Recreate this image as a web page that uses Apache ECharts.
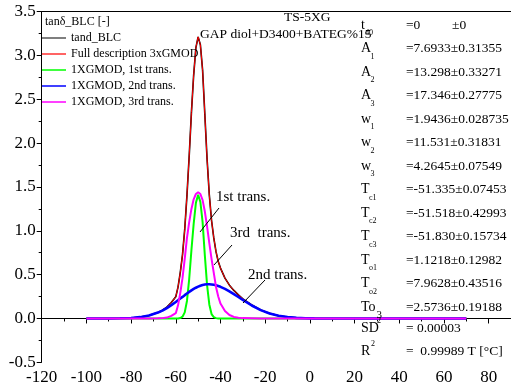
<!DOCTYPE html>
<html>
<head>
<meta charset="utf-8">
<script src="https://cdn.jsdelivr.net/npm/echarts@6/dist/echarts.min.js"></script>
<style>
  html, body { margin: 0; padding: 0; background: #fff; }
  #chart { width: 511px; height: 391px; }
</style>
</head>
<body>
<div id="chart"></div>
<script>
// temperature grid, °C
const temps = [-100,-90,-85,-80,-76,-72,-68,-66,-64,-62,
  -60,-59,-58,-57,-56,-55,-54,-53,-52,-51,
  -50,-49,-48,-47,-46,-45,-44,-43,-42,-41,
  -40,-38,-36,-34,-32,-30,-26,-22,-18,-14,
  -10,-6,-2,2,10,20,30,40,50,60,70];

// measured tan delta (black) and full 3xGMOD fit (red)
const measuredTand = [0,0,0.002,0.006,0.015,0.034,0.069,0.094,0.129,0.182,
  0.248,0.357,0.522,0.726,1.016,1.405,1.853,2.351,2.777,3.091,
  3.213,3.124,2.832,2.327,1.82,1.41,1.118,0.919,0.762,0.65,
  0.575,0.46,0.38,0.32,0.27,0.224,0.155,0.098,0.058,0.031,
  0.016,0.007,0.003,0.001,0,0,0,0,0,0,0];
const fullFit = [0,0,0.002,0.006,0.015,0.034,0.069,0.094,0.129,0.182,
  0.248,0.357,0.522,0.726,1.016,1.405,1.853,2.351,2.777,3.091,
  3.213,3.124,2.832,2.327,1.82,1.41,1.118,0.919,0.762,0.65,
  0.575,0.46,0.38,0.32,0.27,0.224,0.155,0.098,0.058,0.031,
  0.016,0.007,0.003,0.001,0,0,0,0,0,0,0];
// single transitions
const trans1 = [0,0,0,0,0,0,0,0,0,0,
  0,0,0.005,0.02,0.07,0.2,0.45,0.78,1.08,1.32,
  1.41,1.33,1.1,0.72,0.38,0.16,0.05,0.015,0.004,0,
  0,0,0,0,0,0,0,0,0,0,
  0,0,0,0,0,0,0,0,0,0,0];
const trans2 = [0,0,0.002,0.006,0.015,0.034,0.067,0.09,0.119,0.152,
  0.188,0.207,0.227,0.246,0.266,0.285,0.303,0.321,0.337,0.351,
  0.363,0.374,0.382,0.387,0.39,0.39,0.388,0.384,0.378,0.37,
  0.361,0.338,0.31,0.278,0.245,0.211,0.148,0.095,0.057,0.031,
  0.016,0.007,0.003,0.001,0,0,0,0,0,0,0];
const trans3 = [0,0,0,0,0,0,0.002,0.004,0.01,0.03,
  0.06,0.15,0.29,0.46,0.68,0.92,1.1,1.25,1.36,1.42,
  1.44,1.42,1.35,1.22,1.05,0.86,0.68,0.52,0.36,0.25,
  0.17,0.085,0.04,0.018,0.008,0.004,0.002,0,0,0,
  0,0,0,0,0,0,0,0,0,0,0];

const seriesNames = ['tand_BLC', 'Full description 3xGMOD', '1XGMOD, 1st trans.', '1XGMOD, 2nd trans.', '1XGMOD, 3rd trans.'];
const legendColors = ['#555555', '#ff3030', '#00ff00', '#0000ff', '#ff00ff'];

// fit parameters table
const paramNames = ['t','A','A','A','w','w','w','T','T','T','T','T','To'];
const paramSubs = ['d0','1','2','3','1','2','3','c1','c2','c3','o1','o2','3'];
const paramVals = ['=0','=7.6933\u00b10.31355','=13.298\u00b10.33271','=17.346\u00b10.27775',
  '=1.9436\u00b10.028735','=11.531\u00b10.31831','=4.2645\u00b10.07549',
  '=-51.335\u00b10.07453','=-51.518\u00b10.42993','=-51.830\u00b10.15734',
  '=1.1218\u00b10.12982','=7.9628\u00b10.43516','=2.5736\u00b10.19188'];

const FONT = 'Liberation Serif';
const chart = echarts.init(document.getElementById('chart'));

const pairs = arr => temps.map((t, i) => [t, arr[i]]);

function lineSeries(name, data, color, width, legendColor) {
  return {
    name: name,
    type: 'line',
    data: pairs(data),
    symbol: 'none',
    lineStyle: { color: color, width: width },
    itemStyle: { color: legendColor },
    animation: false
  };
}

// right side table as graphic texts
const graphics = [];
const subOffset = { t: 4, A: 9.5, w: 9.5, T: 8, To: 15.5 };
function txt(text, x, y, size) {
  graphics.push({ type: 'text', z: 100, style: { text: text, x: x, y: y, font: size + 'px "' + FONT + '"', fill: '#000', textVerticalAlign: 'middle' } });
}
paramNames.forEach((n, i) => {
  const y = 25 + i * 23.5;
  txt(n, 361, y, 14);
  txt(paramSubs[i], 361 + subOffset[n], y + 8, n === 'To' ? 11 : 8);
  txt(paramVals[i], 406, y, 13.5);
});
txt('\u00b10', 452, 25, 13.5);
txt('SD', 361, 328, 14);
txt('2', 377, 321, 8);
txt('= 0.00003', 406, 328, 13.5);
txt('R', 361, 351, 14);
txt('2', 371, 344, 8);
txt('=  0.99989 T [\u00b0C]', 406, 351, 13.5);

// headings
txt('tan\u03b4_BLC [-]', 45, 22, 12);
txt('TS-5XG', 284, 17, 13.5);
txt('GAP diol+D3400+BATEG%15', 200, 34, 13.5);

// curve annotations
txt('1st trans.', 216, 197, 15);
txt('3rd  trans.', 230, 233, 15);
txt('2nd trans.', 248, 275, 15);
graphics.push({ type: 'line', shape: { x1: 219, y1: 208, x2: 200, y2: 232 }, style: { stroke: '#000', lineWidth: 1 }, z: 100 });
graphics.push({ type: 'line', shape: { x1: 232, y1: 245, x2: 214, y2: 265 }, style: { stroke: '#000', lineWidth: 1 }, z: 100 });
graphics.push({ type: 'line', shape: { x1: 265, y1: 280, x2: 243, y2: 303 }, style: { stroke: '#000', lineWidth: 1 }, z: 100 });

const option = {
  backgroundColor: '#fff',
  animation: false,
  grid: { left: 41.7, right: -3.2, top: 11.7, bottom: 28.7, containLabel: false },
  legend: {
    data: seriesNames,
    orient: 'vertical',
    left: 42,
    top: 31,
    padding: 0,
    icon: 'rect',
    itemWidth: 24,
    itemHeight: 1.5,
    itemGap: 2,
    textStyle: { fontFamily: FONT, fontSize: 12, color: '#000', lineHeight: 14 },
    selectedMode: false
  },
  xAxis: [{
    type: 'value',
    min: -120,
    max: 90,
    interval: 20,
    axisLine: { lineStyle: { color: '#000', width: 1 } },
    axisTick: { inside: false, length: 5, lineStyle: { color: '#000' } },
    minorTick: { show: true, splitNumber: 2, length: 3, lineStyle: { color: '#000' } },
    splitLine: { show: false },
    axisLabel: { fontFamily: 'serif', fontSize: 17, color: '#000', margin: 7, showMaxLabel: false }
  }, {
    type: 'value',
    position: 'top',
    min: -120,
    max: 90,
    axisLine: { show: true, onZero: false, lineStyle: { color: '#000', width: 1 } },
    axisTick: { show: false },
    axisLabel: { show: false },
    splitLine: { show: false }
  }],
  yAxis: {
    type: 'value',
    min: -0.5,
    max: 3.5,
    interval: 0.5,
    axisLine: { show: true, onZero: false, lineStyle: { color: '#000', width: 1 } },
    axisTick: { show: true, inside: false, length: 5, lineStyle: { color: '#000' } },
    minorTick: { show: true, splitNumber: 2, length: 3, lineStyle: { color: '#000' } },
    splitLine: { show: false },
    axisLabel: { fontFamily: 'serif', fontSize: 17, color: '#000', margin: 6, formatter: v => v.toFixed(1) }
  },
  series: [
    lineSeries(seriesNames[0], measuredTand, '#000000', 1.6, legendColors[0]),
    lineSeries(seriesNames[1], fullFit, '#ff0000', 1, legendColors[1]),
    lineSeries(seriesNames[2], trans1, '#00ff00', 2, legendColors[2]),
    lineSeries(seriesNames[3], trans2, '#0000ff', 2.6, legendColors[3]),
    lineSeries(seriesNames[4], trans3, '#ff00ff', 2, legendColors[4])
  ],
  graphic: graphics
};

chart.setOption(option);
</script>
</body>
</html>
